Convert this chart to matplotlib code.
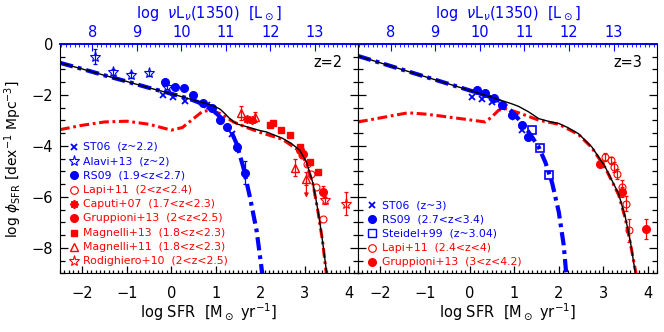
import numpy as np
import matplotlib
matplotlib.use("Agg")
import matplotlib.pyplot as plt
from matplotlib.ticker import MultipleLocator

plt.rcParams['font.family'] = ['DejaVu Sans']
plt.rcParams['mathtext.fontset'] = 'dejavusans'

# ---------------- z = 2 panel ----------------
tot2_s = [-2.5, -2.0, -1.5, -1.0, -0.5, 0.0, 0.5, 0.8, 1.0, 1.1, 1.2, 1.3, 1.4, 1.5, 1.7, 2.0, 2.14, 2.5, 2.7, 2.89, 3.04, 3.19, 3.30, 3.38, 3.46, 3.51]
tot2_p = [-0.74, -0.98, -1.23, -1.47, -1.72, -1.95, -2.2, -2.34, -2.47, -2.56, -2.72, -2.9, -3.05, -3.15, -3.25, -3.40, -3.45, -3.70, -3.9, -4.17, -4.63, -5.48, -6.54, -7.45, -8.5, -9.2]

red2_s = [-2.5, -2.0, -1.5, -1.0, -0.5, 0.0, 0.25, 0.5, 0.7, 0.87, 1.1, 1.4, 1.7, 2.0, 2.5, 2.9, 3.04, 3.19, 3.30, 3.40, 3.50]
red2_p = [-3.36, -3.19, -3.06, -3.03, -3.15, -3.38, -3.28, -2.93, -2.65, -2.6, -2.73, -3.06, -3.28, -3.47, -3.74, -4.22, -4.68, -5.52, -6.58, -7.7, -9.2]

blue2_s = [-2.5, -2.0, -1.5, -1.0, -0.5, 0.0, 0.4, 0.6, 0.8, 1.0, 1.1, 1.2, 1.32, 1.47, 1.62, 1.77, 1.92, 2.03, 2.06]
blue2_p = [-0.74, -0.98, -1.23, -1.47, -1.72, -1.95, -2.15, -2.28, -2.45, -2.7, -2.86, -3.05, -3.32, -3.91, -4.83, -6.01, -7.32, -8.77, -9.2]

st06_2_s = [-0.18, 0.05, 0.31, 0.8, 1.37]
st06_2_p = [-2.01, -2.07, -2.25, -2.4, -3.55]

alavi_s = [-1.71, -1.30, -0.91, -0.49, -0.10]
alavi_p = [-0.50, -1.09, -1.22, -1.15, -1.68]
alavi_e = [0.30, 0.12, 0.12, 0.10, 0.10]

rs09_2_s = [-0.14, 0.08, 0.29, 0.5, 0.72, 0.91, 1.1, 1.25, 1.47, 1.66]
rs09_2_p = [-1.48, -1.68, -1.74, -2.0, -2.3, -2.5, -2.99, -3.26, -4.04, -5.05]
rs09_2_e = [0.05, 0.05, 0.05, 0.05, 0.05, 0.05, 0.08, 0.1, 0.15, 0.45]

lapi2_s = [2.95, 3.05, 3.15, 3.25, 3.42]
lapi2_p = [-4.35, -4.7, -5.1, -5.6, -6.86]

caputi_s = [1.70, 1.82]
caputi_p = [-2.93, -2.98]

grup2_s = [2.89, 2.97, 3.42]
grup2_p = [-4.17, -4.30, -5.81]
grup2_e = [0.1, 0.1, 0.25]

mag13_s = [2.22, 2.29, 2.48, 2.67, 2.89, 3.12, 3.30]
mag13_p = [-3.19, -3.12, -3.39, -3.58, -4.04, -4.63, -5.03]

mag11_s = [1.58, 1.88, 2.78, 3.04]
mag11_p = [-2.70, -2.86, -4.85, -5.29]
mag11_e = [0.28, 0.2, 0.35, 0.25]
mag11_lim_p = [-6.14]

rod_s = [3.46, 3.94]
rod_p = [-6.14, -6.27]
rod_e = [0.15, 0.45]

# ---------------- z = 3 panel ----------------
tot3_s = [-2.5, -2.0, -1.5, -1.0, -0.5, 0.0, 0.5, 0.65, 0.95, 1.1, 1.32, 1.55, 1.8, 2.0, 2.2, 2.44, 2.74, 3.04, 3.34, 3.49, 3.6, 3.72]
tot3_p = [-0.47, -0.74, -1.01, -1.28, -1.55, -1.82, -2.09, -2.18, -2.35, -2.45, -2.66, -2.93, -3.05, -3.12, -3.28, -3.52, -4.04, -4.83, -5.88, -6.8, -7.72, -9.05]

red3_s = [-2.5, -2.0, -1.38, -1.0, -0.63, -0.03, 0.35, 0.5, 0.65, 0.8, 1.1, 1.55, 2.0, 2.44, 2.74, 3.04, 3.34, 3.49, 3.6, 3.74]
red3_p = [-3.06, -2.9, -2.7, -2.75, -2.83, -2.97, -3.06, -2.86, -2.6, -2.53, -2.7, -2.99, -3.15, -3.55, -4.07, -4.86, -5.92, -6.85, -7.8, -9.1]

blue3_s = [-2.5, -2.0, -1.5, -1.0, -0.5, 0.0, 0.4, 0.65, 0.8, 1.0, 1.2, 1.4, 1.55, 1.7, 1.85, 2.0, 2.11, 2.17]
blue3_p = [-0.47, -0.74, -1.01, -1.28, -1.55, -1.82, -2.04, -2.22, -2.4, -2.75, -3.15, -3.65, -4.05, -4.65, -5.45, -6.6, -7.9, -9.1]

st06_3_s = [0.05, 0.27, 0.5, 0.72, 1.02, 1.17]
st06_3_p = [-2.07, -2.14, -2.27, -2.47, -2.86, -3.39]

rs09_3_s = [0.16, 0.35, 0.54, 0.72, 0.95, 1.17, 1.32]
rs09_3_p = [-1.81, -1.94, -2.10, -2.40, -2.80, -3.19, -3.65]

steidel_s = [1.40, 1.58, 1.78]
steidel_p = [-3.39, -4.10, -5.16]

lapi3_s = [3.04, 3.16, 3.23, 3.30, 3.42, 3.50, 3.57]
lapi3_p = [-4.44, -4.57, -4.83, -5.10, -5.60, -6.27, -7.32]
lapi3_e = [0.15, 0.15, 0.2, 0.2, 0.25, 0.3, 0.45]

grup3_s = [2.93, 3.42, 3.96]
grup3_p = [-4.70, -5.81, -7.26]
grup3_e = [0.1, 0.2, 0.4]

xticks = [-2, -1, 0, 1, 2, 3, 4]
yticks = [0, -2, -4, -6, -8]
top_ticks = [8, 9, 10, 11, 12, 13]
L_OFFSET = 9.77

BLUE = '#0000ff'
RED = '#ff0000'

fig = plt.figure(figsize=(6.64, 3.32), dpi=100)
axL = fig.add_axes([60/664, 1-273.3/332, 298/664, 229.3/332])
axR = fig.add_axes([358/664, 1-273.3/332, 299/664, 229.3/332])

dd = (0, (3.2, 1.2, 0.9, 1.2))


def style(ax, labels=True):
    ax.set_xlim(-2.5, 4.2)
    ax.set_ylim(-9, 0)
    ax.set_xticks(xticks)
    ax.xaxis.set_minor_locator(MultipleLocator(0.1))
    ax.set_yticks(yticks)
    ax.yaxis.set_minor_locator(MultipleLocator(0.5))
    ax.tick_params(axis='both', which='both', direction='in', top=False, right=True, width=0.9)
    ax.tick_params(axis='x', which='major', length=5, labelsize=10.5, pad=9)
    ax.tick_params(axis='x', which='minor', length=2.5)
    ax.tick_params(axis='y', which='major', length=6, labelsize=10.5, pad=5)
    ax.tick_params(axis='y', which='minor', length=3.5)
    if not labels:
        ax.tick_params(axis='y', labelleft=False)
    ax.spines['top'].set_color(BLUE)
    ax.spines['top'].set_linewidth(1.2)
    sec = ax.secondary_xaxis('top', functions=(lambda s: s + L_OFFSET, lambda L: L - L_OFFSET))
    sec.set_xticks(top_ticks)
    sec.xaxis.set_minor_locator(MultipleLocator(0.1))
    sec.tick_params(axis='x', which='both', direction='in', colors=BLUE, labelcolor=BLUE, labelsize=10.5, pad=3)
    sec.tick_params(axis='x', which='major', length=5)
    sec.tick_params(axis='x', which='minor', length=2.5)
    sec.spines['top'].set_color(BLUE)
    sec.spines['top'].set_linewidth(1.2)
    bb = ax.get_position()
    fig.text(bb.x0 + bb.width / 2, 1 - 13.5 / 332, r'log  $\nu$L$_\nu$(1350)  [L$_\odot$]',
             color=BLUE, fontsize=10.5, ha='center', va='center')
    ax.set_xlabel(r'log SFR  [M$_\odot$ yr$^{-1}$]', fontsize=10.5, labelpad=1)


def eb(ax, s, p, e, color):
    ax.errorbar(s, p, yerr=e, fmt='none', ecolor=color, elinewidth=0.9, capsize=1.5, capthick=0.9, zorder=3)


# ---------- left panel ----------
ax = axL
ax.plot(red2_s, red2_p, color=RED, lw=2.2, ls=dd, zorder=2)
ax.plot(blue2_s, blue2_p, color=BLUE, lw=3.0, ls=dd, zorder=2)

ax.plot(st06_2_s, st06_2_p, 'x', color=BLUE, ms=5, mew=1.3, zorder=4)
eb(ax, alavi_s, alavi_p, alavi_e, BLUE)
ax.plot(alavi_s, alavi_p, '*', color=BLUE, mfc='none', ms=8, mew=0.8, zorder=4)
eb(ax, rs09_2_s, rs09_2_p, rs09_2_e, BLUE)
ax.plot(rs09_2_s, rs09_2_p, 'o', color=BLUE, ms=5.5, zorder=4)

ax.plot(lapi2_s, lapi2_p, 'o', color=RED, mfc='none', ms=5, mew=0.8, zorder=4)
ax.plot(caputi_s, caputi_p, marker=(8, 2, 0), ls='none', color=RED, ms=6, mew=1.3, zorder=4)
eb(ax, grup2_s, grup2_p, grup2_e, RED)
ax.plot(grup2_s, grup2_p, 'o', color=RED, ms=5.5, zorder=4)
ax.plot(mag13_s, mag13_p, 's', color=RED, ms=5, zorder=4)
eb(ax, mag11_s, mag11_p, mag11_e, RED)
for s0, p0, pl in zip(mag11_s[-1:], mag11_p[-1:], mag11_lim_p):
    ax.annotate('', xy=(s0, pl), xytext=(s0, p0),
                arrowprops=dict(arrowstyle='-|>', color=RED, lw=0.9, mutation_scale=6), zorder=3)
ax.plot(mag11_s, mag11_p, '^', color=RED, mfc='none', ms=6, mew=1.0, zorder=4)
eb(ax, rod_s, rod_p, rod_e, RED)
ax.plot(rod_s, rod_p, '*', color=RED, mfc='none', ms=8, mew=0.8, zorder=4)

ax.plot(tot2_s, tot2_p, color='black', lw=1.0, zorder=5)
ax.text(0.949, 0.918, 'z=2', transform=ax.transAxes, ha='right', va='center', fontsize=10.5)
style(ax)
ax.set_ylabel(r'log $\phi_{\rm SFR}$ [dex$^{-1}$ Mpc$^{-3}$]', fontsize=10, labelpad=5)

left_leg = [
    ('ST06  (z~2.2)', BLUE, dict(marker='x', mfc=BLUE, mew=1.3, ms=5)),
    ('Alavi+13  (z~2)', BLUE, dict(marker='*', mfc='none', mew=0.8, ms=8)),
    ('RS09  (1.9<z<2.7)', BLUE, dict(marker='o', mfc=BLUE, ms=5.5)),
    ('Lapi+11  (2<z<2.4)', RED, dict(marker='o', mfc='none', mew=0.8, ms=5.5)),
    ('Caputi+07  (1.7<z<2.3)', RED, dict(marker=(8, 2, 0), mew=1.3, ms=6)),
    ('Gruppioni+13  (2<z<2.5)', RED, dict(marker='o', mfc=RED, ms=5.5)),
    ('Magnelli+13  (1.8<z<2.3)', RED, dict(marker='s', mfc=RED, ms=5)),
    ('Magnelli+11  (1.8<z<2.3)', RED, dict(marker='^', mfc='none', mew=1.0, ms=6)),
    ('Rodighiero+10  (2<z<2.5)', RED, dict(marker='*', mfc='none', mew=0.8, ms=8)),
]
for i, (lab, col, mk) in enumerate(left_leg):
    yf = (273.3 - (146.7 + 14.3 * i)) / 229.3
    ax.plot([0.047], [yf], transform=ax.transAxes, color=col, ls='none', zorder=6, **mk)
    ax.text(0.077, yf, lab, transform=ax.transAxes, color=col, fontsize=7.8, va='center', ha='left')

# ---------- right panel ----------
ax = axR
ax.plot(red3_s, red3_p, color=RED, lw=2.2, ls=dd, zorder=2)
ax.plot(blue3_s, blue3_p, color=BLUE, lw=3.0, ls=dd, zorder=2)
ax.plot(st06_3_s, st06_3_p, 'x', color=BLUE, ms=5, mew=1.3, zorder=4)
ax.plot(rs09_3_s, rs09_3_p, 'o', color=BLUE, ms=5.5, zorder=4)
ax.plot(steidel_s, steidel_p, 's', color=BLUE, mfc='none', ms=5.5, mew=1.2, zorder=4)
eb(ax, lapi3_s, lapi3_p, lapi3_e, RED)
ax.plot(lapi3_s, lapi3_p, 'o', color=RED, mfc='none', ms=5, mew=0.8, zorder=4)
eb(ax, grup3_s, grup3_p, grup3_e, RED)
ax.plot(grup3_s, grup3_p, 'o', color=RED, ms=5.5, zorder=4)
ax.plot(tot3_s, tot3_p, color='black', lw=1.0, zorder=5)
ax.text(0.949, 0.918, 'z=3', transform=ax.transAxes, ha='right', va='center', fontsize=10.5)
style(ax, labels=False)

right_leg = [
    ('ST06  (z~3)', BLUE, dict(marker='x', mfc=BLUE, mew=1.3, ms=5)),
    ('RS09  (2.7<z<3.4)', BLUE, dict(marker='o', mfc=BLUE, ms=5.5)),
    ('Steidel+99  (z~3.04)', BLUE, dict(marker='s', mfc='none', mew=1.0, ms=5.5)),
    ('Lapi+11  (2.4<z<4)', RED, dict(marker='o', mfc='none', mew=0.8, ms=5.5)),
    ('Gruppioni+13  (3<z<4.2)', RED, dict(marker='o', mfc=RED, ms=5.5)),
]
for i, (lab, col, mk) in enumerate(right_leg):
    yf = (273.3 - (205.0 + 14.2 * i)) / 229.3
    ax.plot([0.046], [yf], transform=ax.transAxes, color=col, ls='none', zorder=6, **mk)
    ax.text(0.079, yf, lab, transform=ax.transAxes, color=col, fontsize=7.8, va='center', ha='left')

fig.savefig('out.png', dpi=100)
